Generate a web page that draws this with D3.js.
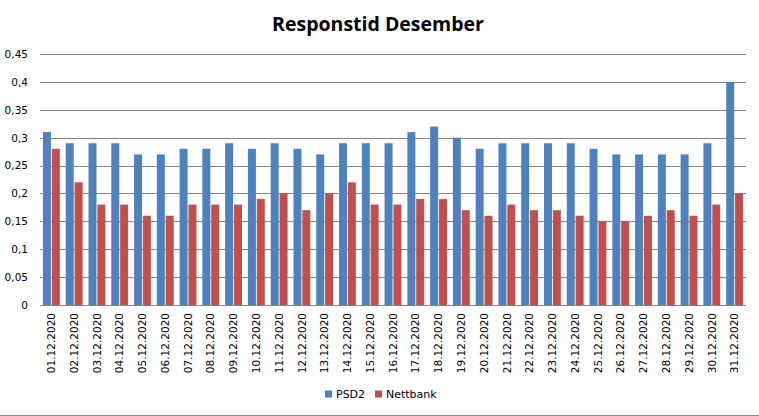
<!DOCTYPE html>
<html lang="en">
<head>
<meta charset="UTF-8">
<title>Responstid Desember</title>
<script src="https://cdn.jsdelivr.net/npm/d3@7"></script>
<style>
  body { margin: 0; background: #fff; }
  .tick text { font-family: "DejaVu Sans", Verdana, sans-serif; font-size: 10.5px; fill: #000; }
</style>
</head>
<body>
<div id="chart"></div>
<script>
var dates = ["01.12.2020","02.12.2020","03.12.2020","04.12.2020","05.12.2020","06.12.2020","07.12.2020","08.12.2020",
  "09.12.2020","10.12.2020","11.12.2020","12.12.2020","13.12.2020","14.12.2020","15.12.2020","16.12.2020",
  "17.12.2020","18.12.2020","19.12.2020","20.12.2020","21.12.2020","22.12.2020","23.12.2020","24.12.2020",
  "25.12.2020","26.12.2020","27.12.2020","28.12.2020","29.12.2020","30.12.2020","31.12.2020"];
var psd2 = [0.31,0.29,0.29,0.29,0.27,0.27,0.28,0.28,0.29,0.28,0.29,0.28,0.27,0.29,0.29,0.29,
  0.31,0.32,0.30,0.28,0.29,0.29,0.29,0.29,0.28,0.27,0.27,0.27,0.27,0.29,0.40];
var nettbank = [0.28,0.22,0.18,0.18,0.16,0.16,0.18,0.18,0.18,0.19,0.20,0.17,0.20,0.22,0.18,0.18,
  0.19,0.19,0.17,0.16,0.18,0.17,0.17,0.16,0.15,0.15,0.16,0.17,0.16,0.18,0.20];
var seriesNames = ["PSD2", "Nettbank"];
var yTicks = [0,0.05,0.1,0.15,0.2,0.25,0.3,0.35,0.4,0.45];

var w = 759, h = 416;
var plotL = 40, plotR = 746, plotT = 54, plotB = 305;
var colors = ["#4F81BD", "#C0504D"];

var svg = d3.select("#chart").append("svg")
  .attr("width", w).attr("height", h);

// title
svg.append("text")
  .attr("x", 378).attr("y", 31)
  .attr("text-anchor", "middle")
  .style("font-family", "'Open Sans', Lato, sans-serif")
  .style("font-weight", "bold")
  .style("font-size", "19.5px")
  .text("Responstid Desember");

var x = d3.scaleBand().domain(dates).range([plotL, plotR]).paddingInner(0.26).paddingOuter(0.13);
var xs = d3.scaleBand().domain(seriesNames).range([0, x.bandwidth()]).paddingInner(0.1);
var y = d3.scaleLinear().domain([0, 0.45]).range([plotB, plotT]);

var fmt = function(d) { return String(d).replace(".", ","); };

// gridlines
svg.append("g").selectAll("line")
  .data(yTicks)
  .enter().append("line")
  .attr("x1", plotL).attr("x2", plotR)
  .attr("y1", function(d) { return Math.round(y(d)) + 0.5; })
  .attr("y2", function(d) { return Math.round(y(d)) + 0.5; })
  .attr("stroke", "#868686").attr("stroke-width", 1);

// y axis labels
var yAxis = svg.append("g")
  .attr("transform", "translate(" + plotL + ",0)")
  .call(d3.axisLeft(y).tickValues(yTicks).tickFormat(fmt).tickSize(0).tickPadding(12));
yAxis.select(".domain").remove();

// bars
var data = dates.map(function(d, i) { return {date: d, vals: [psd2[i], nettbank[i]]}; });
var groups = svg.append("g").selectAll("g")
  .data(data)
  .enter().append("g")
  .attr("transform", function(d) { return "translate(" + x(d.date) + ",0)"; });
groups.selectAll("rect")
  .data(function(d) { return d.vals.map(function(v, j) { return {name: seriesNames[j], v: v, j: j}; }); })
  .enter().append("rect")
  .attr("x", function(d) { return xs(d.name); })
  .attr("width", xs.bandwidth())
  .attr("y", function(d) { return y(d.v); })
  .attr("height", function(d) { return plotB - y(d.v); })
  .attr("fill", function(d) { return colors[d.j]; });

// x axis
var xAxis = svg.append("g")
  .attr("transform", "translate(0," + plotB + ")")
  .call(d3.axisBottom(x).tickSize(0).tickPadding(0));
xAxis.select(".domain").remove();
xAxis.selectAll("text")
  .attr("transform", "rotate(-90)")
  .attr("text-anchor", "end")
  .attr("x", -8)
  .attr("y", 0)
  .attr("dy", "0.35em");

// legend
var legend = svg.append("g").attr("transform", "translate(325,394)");
var lx = [0, 50];
seriesNames.forEach(function(n, i) {
  legend.append("rect").attr("x", lx[i]).attr("y", -3.5).attr("width", 7).attr("height", 7).attr("fill", colors[i]);
  legend.append("text").attr("x", lx[i] + 11).attr("y", 0).attr("dy", "0.36em")
    .style("font-family", "'DejaVu Sans', sans-serif").style("font-size", "11px")
    .text(n);
});

// bottom border
svg.append("line").attr("x1", 0).attr("x2", w).attr("y1", 415.5).attr("y2", 415.5)
  .attr("stroke", "#868686");
</script>
</body>
</html>
